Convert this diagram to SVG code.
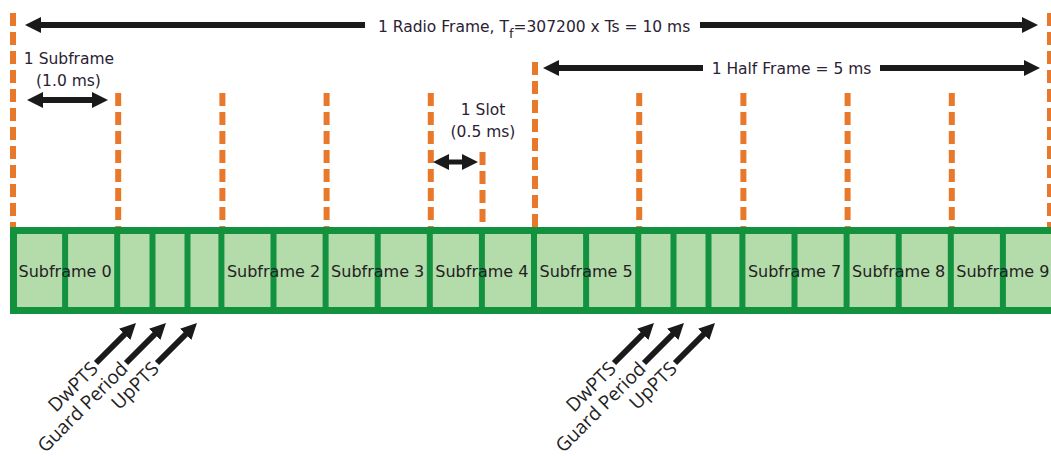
<svg xmlns="http://www.w3.org/2000/svg" width="1051" height="456" viewBox="0 0 1051 456">
<style>
  .dash { stroke: #e8782a; stroke-width: 6; stroke-dasharray: 13 6; fill: none; }
  .bar { fill: #12923f; }
  .cell { fill: #b4dbaa; }
  .arr { stroke: #1a1a1a; stroke-width: 6; fill: none; }
  .t { font-family: "DejaVu Sans", sans-serif; font-size: 15.5px; fill: #2b2233; }
  .sf { font-family: "DejaVu Sans", sans-serif; font-size: 16px; fill: #222; text-anchor: middle; }
  .d { font-family: "Open Sans", "DejaVu Sans", sans-serif; font-size: 19px; fill: #222; text-anchor: end; }
</style>
<defs>
  <marker id="ah" markerUnits="userSpaceOnUse" viewBox="0 0 16 16" markerWidth="16" markerHeight="16" refX="4" refY="8" orient="auto-start-reverse">
    <path d="M0,0 L16,8 L0,16 Z" fill="#1a1a1a"/>
  </marker>
</defs>
<rect width="1051" height="456" fill="#ffffff"/>

<g id="boundaries">
  <line class="dash" x1="13" y1="13" x2="13" y2="232"/>
  <line class="dash" x1="118.2" y1="93" x2="118.2" y2="232"/>
  <line class="dash" x1="222.4" y1="93" x2="222.4" y2="232"/>
  <line class="dash" x1="326.6" y1="93" x2="326.6" y2="232"/>
  <line class="dash" x1="430.8" y1="93" x2="430.8" y2="232"/>
  <line class="dash" x1="482.5" y1="152" x2="482.5" y2="232"/>
  <line class="dash" x1="535" y1="62" x2="535" y2="232"/>
  <line class="dash" x1="639.2" y1="93" x2="639.2" y2="232"/>
  <line class="dash" x1="743.4" y1="93" x2="743.4" y2="232"/>
  <line class="dash" x1="847.6" y1="93" x2="847.6" y2="232"/>
  <line class="dash" x1="951.8" y1="93" x2="951.8" y2="232"/>
  <line class="dash" x1="1050" y1="13" x2="1050" y2="232"/>
</g>

<g id="frame-bar">
  <rect class="bar" x="10" y="227" width="1052" height="87"/>
  <g id="subframe0">
    <rect class="cell" x="17" y="234" width="45.1" height="73"/>
    <rect class="cell" x="68.1" y="234" width="46.1" height="73"/>
    <text class="sf" x="65.1" y="277">Subframe 0</text>
  </g>
  <g id="subframe1">
    <rect class="cell" x="120.2" y="234" width="29.3" height="73"/>
    <rect class="cell" x="155.5" y="234" width="29" height="73"/>
    <rect class="cell" x="190.5" y="234" width="27.9" height="73"/>
  </g>
  <g id="subframe2">
    <rect class="cell" x="224.4" y="234" width="46.1" height="73"/>
    <rect class="cell" x="276.5" y="234" width="46.1" height="73"/>
    <text class="sf" x="273.5" y="277">Subframe 2</text>
  </g>
  <g id="subframe3">
    <rect class="cell" x="328.6" y="234" width="46.1" height="73"/>
    <rect class="cell" x="380.7" y="234" width="46.1" height="73"/>
    <text class="sf" x="377.7" y="277">Subframe 3</text>
  </g>
  <g id="subframe4">
    <rect class="cell" x="432.8" y="234" width="46.1" height="73"/>
    <rect class="cell" x="484.9" y="234" width="46.1" height="73"/>
    <text class="sf" x="481.9" y="277">Subframe 4</text>
  </g>
  <g id="subframe5">
    <rect class="cell" x="537" y="234" width="46.1" height="73"/>
    <rect class="cell" x="589.1" y="234" width="46.1" height="73"/>
    <text class="sf" x="586.1" y="277">Subframe 5</text>
  </g>
  <g id="subframe6">
    <rect class="cell" x="641.2" y="234" width="29.3" height="73"/>
    <rect class="cell" x="676.5" y="234" width="29" height="73"/>
    <rect class="cell" x="711.5" y="234" width="27.9" height="73"/>
  </g>
  <g id="subframe7">
    <rect class="cell" x="745.4" y="234" width="46.1" height="73"/>
    <rect class="cell" x="797.5" y="234" width="46.1" height="73"/>
    <text class="sf" x="794.5" y="277">Subframe 7</text>
  </g>
  <g id="subframe8">
    <rect class="cell" x="849.6" y="234" width="46.1" height="73"/>
    <rect class="cell" x="901.7" y="234" width="46.1" height="73"/>
    <text class="sf" x="898.7" y="277">Subframe 8</text>
  </g>
  <g id="subframe9">
    <rect class="cell" x="953.8" y="234" width="46.1" height="73"/>
    <rect class="cell" x="1005.9" y="234" width="46.1" height="73"/>
    <text class="sf" x="1002.9" y="277">Subframe 9</text>
  </g>
</g>

<g id="connectors">
  <path class="arr" d="M365,25 L37,25" marker-end="url(#ah)"/>
  <path class="arr" d="M700,25 L1026,25" marker-end="url(#ah)"/>
  <path class="arr" d="M703,68 L555,68" marker-end="url(#ah)"/>
  <path class="arr" d="M880,68 L1028,68" marker-end="url(#ah)"/>
  <path class="arr" d="M39,100 L96,100" marker-start="url(#ah)" marker-end="url(#ah)"/>
  <path class="arr" style="stroke-width:5" d="M445,162 L466,162" marker-start="url(#ah)" marker-end="url(#ah)"/>
  <path class="arr" d="M96,363 L127.5,331.5" marker-end="url(#ah)"/>
  <path class="arr" d="M126,363 L157.5,331.5" marker-end="url(#ah)"/>
  <path class="arr" d="M157,363 L188.5,331.5" marker-end="url(#ah)"/>
  <path class="arr" d="M614,363 L645.5,331.5" marker-end="url(#ah)"/>
  <path class="arr" d="M644,363 L675.5,331.5" marker-end="url(#ah)"/>
  <path class="arr" d="M675,363 L706.5,331.5" marker-end="url(#ah)"/>
</g>

<g id="labels">
  <text class="t" x="378" y="32">1 Radio Frame, T<tspan font-size="13" dy="6">f</tspan><tspan dy="-6">=307200 x Ts = 10 ms</tspan></text>
  <text class="t" x="791.5" y="74" text-anchor="middle">1 Half Frame = 5 ms</text>
  <text class="t" x="69" y="64" text-anchor="middle">1 Subframe</text>
  <text class="t" x="68.5" y="86" text-anchor="middle">(1.0 ms)</text>
  <text class="t" x="483" y="115" text-anchor="middle">1 Slot</text>
  <text class="t" x="483" y="137" text-anchor="middle">(0.5 ms)</text>
</g>

<g id="special-fields">
  <text class="d" x="99" y="370" transform="rotate(-45 99 370)">DwPTS</text>
  <text class="d" x="129" y="370" transform="rotate(-45 129 370)">Guard Period</text>
  <text class="d" x="160" y="370" transform="rotate(-45 160 370)">UpPTS</text>
  <text class="d" x="617" y="370" transform="rotate(-45 617 370)">DwPTS</text>
  <text class="d" x="647" y="370" transform="rotate(-45 647 370)">Guard Period</text>
  <text class="d" x="678" y="370" transform="rotate(-45 678 370)">UpPTS</text>
</g>
</svg>
